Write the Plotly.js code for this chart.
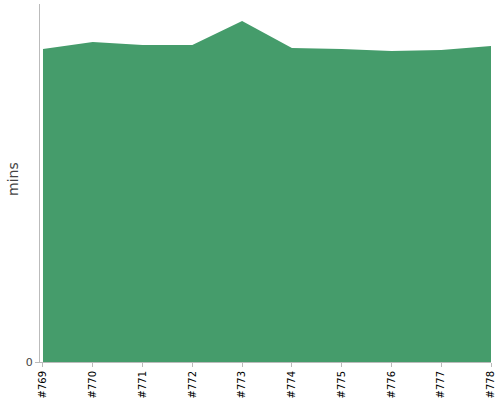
<!DOCTYPE html>
<html><head><meta charset="utf-8">
<script src="https://cdn.plot.ly/plotly-3.0.1.min.js"></script>
<style>html,body{margin:0;padding:0;background:#fff}#chart{width:500px;height:400px}</style>
</head><body><div id="chart"></div>
<script>
var builds = ["#769","#770","#771","#772","#773","#774","#775","#776","#777","#778"];
var minutes = [31.3, 32.0, 31.7, 31.7, 34.1, 31.4, 31.3, 31.1, 31.2, 31.6];
var yTicks = [0];
var yTitle = 'mins';

Plotly.newPlot('chart', [{
  x: builds, y: minutes, type: 'scatter', mode: 'lines',
  fill: 'tozeroy', fillcolor: '#459c6b',
  line: {color: '#459c6b', width: 0}, hoverinfo: 'none'
}], {
  width: 500, height: 400,
  margin: {l: 40, r: 9, t: 4, b: 38},
  paper_bgcolor: '#fff', plot_bgcolor: '#fff',
  showlegend: false,
  font: {family: "'DejaVu Sans', sans-serif", color: '#444'},
  xaxis: {
    type: 'category', range: [-0.06, 9], tickangle: -90,
    showgrid: false, zeroline: false, showline: true, linecolor: '#bbb', linewidth: 1,
    ticks: 'outside', ticklen: 4, tickcolor: '#bbb',
    tickfont: {size: 10, color: '#000', family: "'DejaVu Sans', sans-serif"}
  },
  yaxis: {
    range: [0, 35.8], tickvals: yTicks, ticktext: ['0'],
    showgrid: false, zeroline: false, showline: true, linecolor: '#bbb', linewidth: 1,
    ticks: 'outside', ticklen: 4, tickcolor: '#bbb',
    tickfont: {size: 11, color: '#444', family: "'DejaVu Sans', sans-serif"}
  },
  annotations: [{
    text: yTitle, xref: 'paper', yref: 'paper', x: 0, y: 0.5,
    xanchor: 'center', yanchor: 'middle', xshift: -27, yshift: 4,
    textangle: -90, showarrow: false,
    font: {size: 14, color: '#444', family: "'DejaVu Sans', sans-serif"}
  }]
}, {displayModeBar: false, staticPlot: true});
</script></body></html>
